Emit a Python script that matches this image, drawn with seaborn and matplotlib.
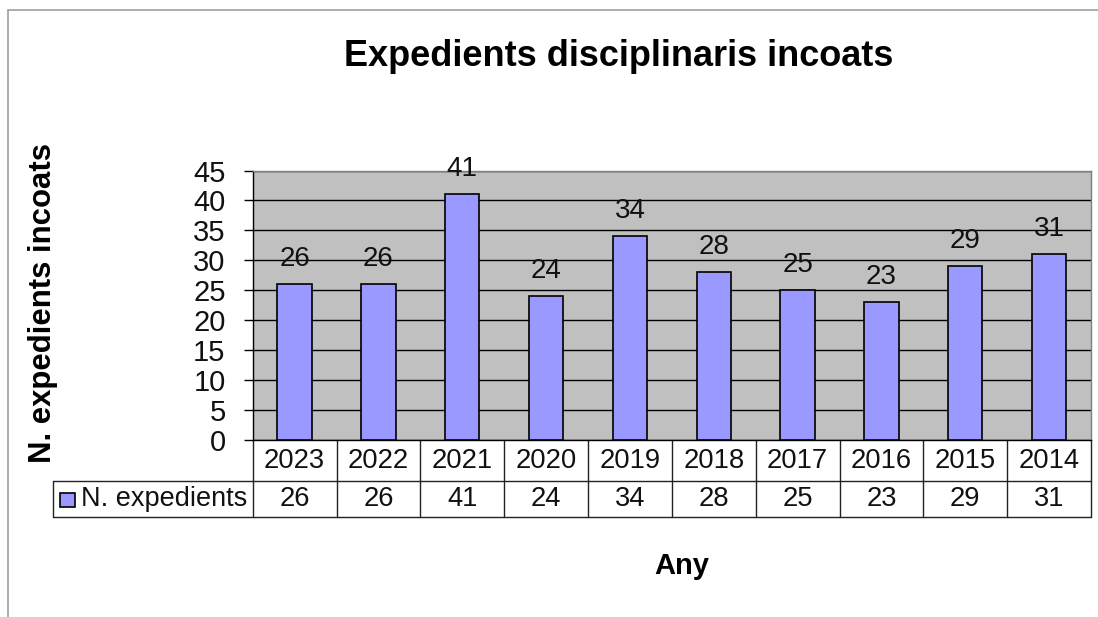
import matplotlib

matplotlib.use('Agg')
import matplotlib.pyplot as plt
from matplotlib.lines import Line2D
from matplotlib.patches import Rectangle
import pandas as pd
import seaborn as sns

# Chart data
years = ['2023', '2022', '2021', '2020', '2019', '2018', '2017', '2016', '2015', '2014']
expedients = [26, 26, 41, 24, 34, 28, 25, 23, 29, 31]
series_name = 'N. expedients'
title = 'Expedients disciplinaris incoats'
y_title = 'N. expedients incoats'
x_title = 'Any'
y_ticks = list(range(0, 46, 5))

bar_color = '#9999FF'
plot_bg = '#C0C0C0'

sns.set_theme(style='white')
plt.rcParams['font.family'] = ['Liberation Sans', 'DejaVu Sans']

W, H = 1098, 617
fig = plt.figure(figsize=(W / 100, H / 100), dpi=100)

# plot area in pixels
left, right, top, bottom = 252.7, 1091, 170.5, 440
ax = fig.add_axes([left / W, 1 - bottom / H, (right - left) / W, (bottom - top) / H])
ax.set_facecolor(plot_bg)

df = pd.DataFrame({'any': years, 'n': expedients})
sns.barplot(data=df, x='any', y='n', order=years, color=bar_color, saturation=1,
            edgecolor='black', linewidth=1.2, width=0.41, ax=ax, zorder=3)

ax.bar_label(ax.containers[0], labels=[str(v) for v in expedients],
             padding=9, fontsize=20, color='#111111')

n = len(years)
ax.set_xlim(-0.5, n - 0.5)
ax.set_ylim(0, 45)
ax.set_yticks(y_ticks)
ax.set_axisbelow(True)
ax.yaxis.grid(True, color='black', lw=1)
ax.xaxis.grid(False)
ax.tick_params(axis='y', left=True, direction='out', length=6.5, width=1,
               color='black', labelsize=21, pad=13, labelcolor='#111111')
ax.tick_params(axis='x', bottom=False, labelbottom=False)
ax.set_xlabel('')
ax.set_ylabel('')
for side in ['left', 'bottom']:
    ax.spines[side].set_color('black')
    ax.spines[side].set_linewidth(1)
for side in ['top', 'right']:
    ax.spines[side].set_color('#808080')
    ax.spines[side].set_linewidth(1)

# data table under the chart
trans = ax.get_xaxis_transform()
plot_h = bottom - top
row1 = -41 / plot_h
row2 = -77 / plot_h
col_w = (right - left) / n
legend_left = -0.5 - (left - 53) / col_w
line_kw = dict(color='#222222', lw=1, transform=trans, clip_on=False)

ax.add_line(Line2D([legend_left, n - 0.5], [row1, row1], **line_kw))
ax.add_line(Line2D([legend_left, n - 0.5], [row2, row2], **line_kw))
ax.add_line(Line2D([legend_left, legend_left], [row1, row2], **line_kw))
for i in range(n + 1):
    ax.add_line(Line2D([i - 0.5, i - 0.5], [0, row2], **line_kw))

for i, (yr, v) in enumerate(zip(years, expedients)):
    ax.text(i, row1 / 2, yr, transform=trans, ha='center', va='center',
            fontsize=19.7, color='#111111')
    ax.text(i, (row1 + row2) / 2, str(v), transform=trans, ha='center', va='center',
            fontsize=19.7, color='#111111')

# legend key in the table
fig.add_artist(Rectangle((60 / W, 1 - 507 / H), 15 / W, 14 / H, transform=fig.transFigure,
                         facecolor=bar_color, edgecolor='black', lw=1.2))
fig.text(81 / W, 1 - 499 / H, series_name, ha='left', va='center', fontsize=19.5,
         color='#111111')

# chart frame
fig.add_artist(Line2D([8 / W, 8 / W], [0, 1 - 10 / H], color='#A0A0A0', lw=1.2))
fig.add_artist(Line2D([8 / W, 1], [1 - 10 / H, 1 - 10 / H], color='#A0A0A0', lw=1.2))

# titles
fig.text(619 / W, 1 - 57 / H, title, ha='center', va='center', fontsize=26,
         fontweight='bold', color='black')
fig.text(43 / W, 1 - 303 / H, y_title, ha='center', va='center', rotation=90,
         fontsize=22.4, fontweight='bold', color='black')
fig.text(682 / W, 1 - 566 / H, x_title, ha='center', va='center', fontsize=21,
         fontweight='bold', color='black')

fig.savefig('out.png', dpi=100)
plt.close()
